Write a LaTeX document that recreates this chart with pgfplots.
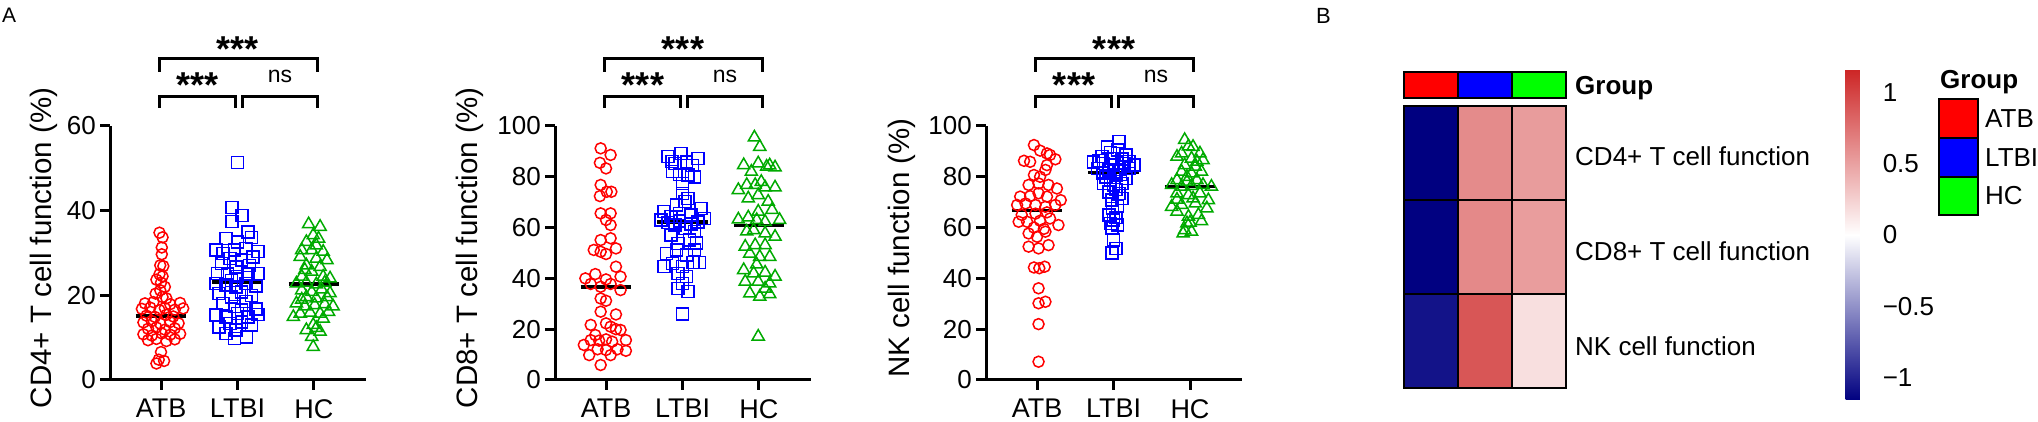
\documentclass[border=0pt]{standalone}
\usepackage{fontspec}
\setmainfont{Liberation Sans}
\usepackage{pgfplots}
\pgfplotsset{compat=1.18}
\definecolor{cRed}{RGB}{255,0,0}
\definecolor{cBlue}{RGB}{0,0,255}
\definecolor{cGreen}{RGB}{0,170,0}
\definecolor{aRed}{RGB}{255,0,0}
\definecolor{aBlue}{RGB}{0,0,255}
\definecolor{aGreen}{RGB}{0,255,0}
\pgfplotsset{
 scat/.style={
   scale only axis, width=256pt, height=254pt,
   xmin=0.333, xmax=3.68, ymin=0,
   axis x line=bottom, axis y line=left,
   axis line style={-, line width=3pt, black},
   tick align=outside, major tick length=10pt,
   tick style={line width=3pt, black},
   xtick={1,2,3}, xticklabels={ATB,LTBI,HC},
   xticklabel style={font=\fontsize{27}{32}\selectfont, inner sep=0pt, anchor=north, yshift=-9pt},
   yticklabel style={font=\fontsize{26}{31}\selectfont, inner sep=0pt, anchor=east, xshift=-4pt},
   /pgf/number format/assume math mode=true,
   label style={font=\fontsize{29.5}{35}\selectfont},
   clip=false,
 },
 atb/.style={only marks, mark=o, mark size=5.5pt, color=cRed, mark options={line width=1.5pt}},
 ltbi/.style={only marks, mark=square, mark size=6pt, color=cBlue, mark options={line width=1.5pt}},
 hc/.style={only marks, mark=triangle, mark size=7pt, color=cGreen, mark options={line width=1.5pt}},
 mean/.style={black, line width=3.5pt, no marks},
}
\newcommand\brk[1]{%
  \draw[line width=3pt, line join=miter] (#1pt+49pt,350pt) -- (#1pt+49pt,363pt) -- (#1pt+207pt,363pt) -- (#1pt+207pt,350pt);
  \draw[line width=3pt, line join=miter] (#1pt+49pt,314pt) -- (#1pt+49pt,325pt) -- (#1pt+125pt,325pt) -- (#1pt+125pt,314pt);
  \draw[line width=3pt, line join=miter] (#1pt+132pt,314pt) -- (#1pt+132pt,325pt) -- (#1pt+207pt,325pt) -- (#1pt+207pt,314pt);
  \node[anchor=base, inner sep=0pt, font=\fontsize{36}{40}\selectfont\bfseries] at (#1pt+128pt,360pt) {***};
  \node[anchor=base, inner sep=0pt, font=\fontsize{36}{40}\selectfont\bfseries] at (#1pt+88pt,324pt) {***};
  \node[anchor=base, inner sep=0pt, font=\fontsize{23}{27}\selectfont] at (#1pt+170pt,339pt) {ns};
}
\begin{document}
\begin{tikzpicture}
\useasboundingbox (0pt,0pt) rectangle (2038pt,422pt);
% ---------- Panel 1 ----------
\begin{axis}[scat, at={(110pt,42pt)}, anchor=south west, ymax=60, ytick={0,20,40,60},
  ylabel={CD4+ T cell function (\%)}, ylabel style={at={(axis description cs:-0.258,0.52)}, anchor=center}]
\addplot[atb] table {
0.98 34.8
1.02 33.7
1.01 31.3
1.01 29.7
0.99 27.1
1.03 26.9
0.98 25.0
1.02 24.5
0.94 23.7
1.00 23.0
1.05 22.0
0.99 21.2
0.93 20.4
1.02 19.6
1.07 19.3
0.79 18.1
0.90 18.4
1.12 17.9
1.25 18.2
0.75 16.8
0.86 17.1
0.98 16.5
1.05 17.0
1.18 16.6
1.29 16.9
0.81 15.2
0.92 14.9
1.07 15.4
1.16 15.0
0.77 13.6
0.88 13.9
0.99 13.3
1.12 13.7
1.23 13.4
0.83 12.1
0.94 12.4
1.05 11.9
1.18 12.2
0.77 10.8
0.88 10.5
1.01 11.0
1.12 10.7
1.25 10.9
0.83 9.4
0.94 9.7
1.07 9.2
1.18 9.6
1.00 6.6
0.94 3.9
1.04 4.5
0.97 4.8
};
\addplot[ltbi] table {
2.00 51.4
1.93 40.7
2.06 38.8
1.93 37.4
2.14 35.0
1.85 33.4
2.00 32.6
2.18 33.7
1.72 30.7
1.81 29.9
1.96 30.7
2.11 31.1
2.27 30.3
1.90 28.7
2.05 28.3
2.20 29.1
1.98 26.7
1.74 25.2
1.87 25.0
2.00 24.4
2.14 25.0
2.27 25.2
1.72 22.8
1.85 22.4
1.98 22.0
2.11 22.8
2.24 22.2
1.76 20.4
1.92 19.6
2.05 20.8
2.18 20.0
1.81 18.1
1.96 17.4
2.11 18.5
2.24 16.8
1.72 15.3
1.85 14.9
2.00 15.7
2.14 14.9
2.27 15.5
1.90 13.4
2.05 13.7
2.18 13.0
1.85 11.0
1.98 11.8
2.12 10.2
1.96 9.8
1.79 27.5
2.16 27.0
1.92 23.5
2.05 16.5
1.76 12.5
};
\addplot[hc] table {
2.93 36.8
3.08 36.2
2.99 34.2
2.90 32.6
3.06 33.4
2.84 30.7
2.97 30.7
3.12 30.3
2.82 29.1
3.03 28.7
3.17 28.3
2.90 27.1
3.08 26.7
2.97 25.6
2.84 24.4
3.12 24.4
3.21 24.0
2.77 22.8
2.90 23.0
3.03 22.6
3.14 23.0
2.84 21.2
2.97 20.8
3.10 21.4
2.90 19.6
3.03 19.3
3.17 19.6
2.77 18.1
2.88 17.4
3.01 17.7
3.14 17.9
3.25 17.4
2.82 15.7
2.95 15.9
3.08 15.7
3.19 16.1
2.73 14.9
2.99 13.0
2.90 11.8
3.08 11.4
2.97 10.2
2.99 7.8
3.03 31.8
2.88 26.0
3.21 20.5
2.84 19.0
3.12 14.5
3.03 12.3
};
\addplot[mean] coordinates {(0.667,15.1) (1.333,15.1)};
\addplot[mean] coordinates {(1.667,23.1) (2.333,23.1)};
\addplot[mean] coordinates {(2.667,22.7) (3.333,22.7)};
\end{axis}
% ---------- Panel 2 ----------
\begin{axis}[scat, at={(555pt,42pt)}, anchor=south west, ymax=100, ytick={0,20,40,60,80,100},
  ylabel={CD8+ T cell function (\%)}, ylabel style={at={(axis description cs:-0.332,0.52)}, anchor=center}]
\addplot[atb] table {
0.93 91.2
1.06 88.6
0.92 85.5
1.00 83.3
0.93 76.8
1.01 74.1
1.07 74.1
0.92 72.4
0.93 65.6
1.06 65.6
1.00 63.0
1.06 61.0
0.93 55.1
1.06 55.8
0.84 51.2
0.93 50.5
1.13 51.8
1.00 49.6
1.13 44.6
0.73 40.0
0.86 41.7
1.00 39.6
1.19 40.7
0.80 37.8
1.06 37.8
0.93 36.7
1.19 35.4
0.93 32.1
1.00 31.2
0.93 26.9
1.13 25.8
0.80 21.7
1.00 22.3
1.06 21.0
1.13 20.0
1.19 19.7
0.86 17.7
0.71 13.8
0.80 15.7
0.91 15.5
1.00 16.0
1.08 15.1
1.26 15.7
0.78 9.8
0.89 12.1
1.00 11.8
1.06 9.8
1.15 12.1
1.26 11.5
0.93 5.9
};
\addplot[ltbi] table {
1.81 87.9
1.98 89.2
2.20 87.2
1.90 85.3
2.05 85.9
1.87 82.0
2.07 80.7
2.16 80.0
2.00 77.4
2.00 73.5
2.07 71.5
1.76 66.3
1.92 68.9
2.03 70.2
2.24 67.6
1.72 63.0
1.85 64.3
1.96 65.6
2.11 65.0
2.20 62.3
2.29 63.6
1.90 61.0
2.03 59.7
2.16 58.4
1.94 53.8
2.09 55.1
1.79 49.8
1.92 51.2
2.05 49.2
2.16 51.2
1.76 44.6
1.87 45.9
2.00 44.6
2.14 46.2
2.22 46.2
1.94 42.0
2.05 40.7
2.00 38.0
1.94 36.1
2.07 34.8
2.00 26.0
1.81 62.0
1.96 62.5
2.11 61.5
1.85 57.0
2.18 54.0
1.86 86.0
2.13 84.5
1.96 81.0
};
\addplot[hc] table {
2.94 95.5
3.01 91.8
2.80 84.6
2.99 85.3
3.10 84.0
3.21 83.7
2.90 82.0
2.73 74.8
2.84 76.8
2.95 76.8
3.08 75.8
3.21 75.8
2.86 71.5
2.99 72.8
3.12 70.2
2.99 66.3
2.73 63.2
2.86 64.0
2.97 63.0
3.08 62.3
3.27 63.0
2.93 59.0
3.08 57.7
3.21 56.4
2.82 52.5
2.95 53.1
3.08 53.1
2.88 49.8
3.01 48.5
3.14 48.5
2.80 43.3
2.93 42.0
3.08 42.3
3.21 40.7
2.82 38.7
2.99 38.7
3.14 38.0
2.88 34.1
3.01 32.8
3.14 33.8
2.99 17.1
3.14 84.5
3.03 78.0
3.17 67.0
2.84 58.5
2.97 45.5
3.08 36.0
};
\addplot[mean] coordinates {(0.667,36.7) (1.333,36.7)};
\addplot[mean] coordinates {(1.667,62.3) (2.333,62.3)};
\addplot[mean] coordinates {(2.667,60.8) (3.333,60.8)};
\end{axis}
% ---------- Panel 3 ----------
\begin{axis}[scat, at={(986pt,42pt)}, anchor=south west, ymax=100, ytick={0,20,40,60,80,100},
  ylabel={NK cell function (\%)}, ylabel style={at={(axis description cs:-0.328,0.52)}, anchor=center}]
\addplot[atb] table {
0.96 92.5
1.04 90.3
1.13 89.2
0.83 86.3
0.91 85.9
1.17 88.6
1.24 86.9
1.13 84.6
0.96 80.7
1.04 80.0
1.11 82.7
0.89 76.8
1.02 77.4
1.15 76.8
1.26 75.4
0.78 72.2
0.91 72.4
1.02 73.5
1.13 72.2
1.31 70.8
0.74 68.9
0.85 69.5
0.98 68.9
1.11 68.2
1.24 68.9
0.76 62.3
0.87 62.3
1.04 62.7
1.17 63.6
1.28 61.0
0.89 57.7
1.00 56.4
1.11 58.4
0.89 52.5
1.02 51.8
1.15 53.1
0.96 44.3
1.03 44.0
1.10 44.6
1.02 36.1
1.02 30.2
1.11 30.8
1.02 22.0
1.02 7.2
0.98 65.5
1.13 66.0
0.80 65.0
0.96 60.0
1.09 59.5
};
\addplot[ltbi] table {
2.07 93.8
1.92 91.8
2.05 90.5
2.16 88.6
1.85 87.9
1.98 87.2
1.74 85.9
1.87 85.3
2.00 84.6
2.14 85.3
2.27 84.6
1.79 83.3
1.94 82.7
2.07 82.9
2.20 83.3
1.90 80.0
2.03 80.7
2.16 79.4
1.87 77.4
2.00 76.8
2.11 77.4
1.94 74.1
2.07 73.5
1.98 70.8
2.11 71.5
1.99 67.6
2.00 63.0
1.96 61.7
2.05 61.0
1.98 59.7
2.00 55.1
2.03 51.8
1.98 49.9
1.96 89.5
2.11 87.0
1.81 86.5
2.20 86.0
2.00 82.0
1.86 81.5
2.09 81.0
1.96 78.5
2.03 75.0
2.05 68.5
1.94 65.0
2.03 64.0
};
\addplot[hc] table {
2.93 94.5
3.04 91.8
2.89 89.2
3.13 89.2
2.83 87.9
3.02 87.2
3.17 86.6
2.93 84.6
3.07 84.0
2.89 82.0
3.02 81.3
3.15 82.0
2.83 78.7
2.96 78.1
3.09 78.7
2.76 76.8
2.89 76.1
3.02 76.4
3.17 76.8
3.28 76.1
2.83 73.5
2.98 72.8
3.13 73.5
3.24 70.8
2.76 68.2
2.89 68.9
3.07 69.5
3.22 67.6
2.83 66.3
2.98 64.3
3.11 65.0
2.96 61.7
2.93 59.0
3.02 58.4
2.91 57.7
2.98 92.0
3.09 86.0
2.96 80.0
2.83 71.0
3.04 71.5
3.15 62.5
3.00 62.0
};
\addplot[mean] coordinates {(0.667,66.7) (1.333,66.7)};
\addplot[mean] coordinates {(1.667,81.6) (2.333,81.6)};
\addplot[mean] coordinates {(2.667,76.1) (3.333,76.1)};
\end{axis}
\brk{110}
\brk{555}
\brk{986}
% ---------- Heatmap ----------
\begin{axis}[at={(1404pt,34pt)}, anchor=south west, scale only axis, width=162pt, height=282pt,
  xmin=-0.5, xmax=2.5, ymin=-0.5, ymax=2.5, y dir=reverse,
  xtick={-0.5,0.5,1.5,2.5}, ytick={-0.5,0.5,1.5,2.5}, xticklabels={,,,}, yticklabels={,,,},
  major tick length=0pt, grid=major, major grid style={black, line width=2pt},
  axis on top, axis line style={black, line width=2pt},
  colormap={pheat}{rgb255=(0,0,128) rgb255=(255,255,255) rgb255=(205,38,38)},
  point meta min=-1.155, point meta max=1.155,
  colorbar,
  colorbar style={at={(parent axis.north east)}, anchor=north west, xshift=271pt, yshift=36pt,
    scale only axis, width=26pt, height=330pt, y dir=normal, grid=none,
    xtick=\empty, ytick={-1,-0.5,0,0.5,1}, yticklabels={−1,−0.5,0,0.5,1},
    major tick length=0pt, axis line style={draw=none}, tick style={draw=none},
    yticklabel style={font=\fontsize{26}{31}\selectfont, anchor=west, inner sep=0pt, xshift=11pt}},
]
\addplot[matrix plot*, mesh/cols=3, point meta=explicit] table[meta=z] {
x y z
0 0 -1.153
1 0 0.62
2 0 0.53
0 1 -1.150
1 1 0.63
2 1 0.52
0 2 -1.070
1 2 0.90
2 2 0.17
};
\end{axis}
% annotation bar
\draw[line width=2pt, fill=aRed] (1404pt,324pt) rectangle (1458pt,350pt);
\draw[line width=2pt, fill=aBlue] (1458pt,324pt) rectangle (1512pt,350pt);
\draw[line width=2pt, fill=aGreen] (1512pt,324pt) rectangle (1566pt,350pt);
\node[anchor=base west, inner sep=0pt, font=\fontsize{26}{31}\selectfont\bfseries] at (1575pt,327pt) {Group};
\node[anchor=west, inner sep=0pt, font=\fontsize{26}{31}\selectfont] at (1575pt,266pt) {CD4+ T cell function};
\node[anchor=west, inner sep=0pt, font=\fontsize{26}{31}\selectfont] at (1575pt,171pt) {CD8+ T cell function};
\node[anchor=west, inner sep=0pt, font=\fontsize{26}{31}\selectfont] at (1575pt,76pt) {NK cell function};
% legend
\node[anchor=base west, inner sep=0pt, font=\fontsize{26}{31}\selectfont\bfseries] at (1940pt,333pt) {Group};
\draw[line width=2pt, fill=aRed] (1939pt,284pt) rectangle (1978pt,323pt);
\draw[line width=2pt, fill=aBlue] (1939pt,245pt) rectangle (1978pt,284pt);
\draw[line width=2pt, fill=aGreen] (1939pt,207pt) rectangle (1978pt,245pt);
\node[anchor=base west, inner sep=0pt, font=\fontsize{26}{31}\selectfont] at (1985pt,294pt) {ATB};
\node[anchor=base west, inner sep=0pt, font=\fontsize{26}{31}\selectfont] at (1985pt,255pt) {LTBI};
\node[anchor=base west, inner sep=0pt, font=\fontsize{26}{31}\selectfont] at (1985pt,217pt) {HC};
% panel letters
\node[anchor=base west, inner sep=0pt, font=\fontsize{21}{25}\selectfont] at (2pt,399pt) {A};
\node[anchor=base west, inner sep=0pt, font=\fontsize{22}{26}\selectfont] at (1316pt,398pt) {B};
\end{tikzpicture}
\end{document}
